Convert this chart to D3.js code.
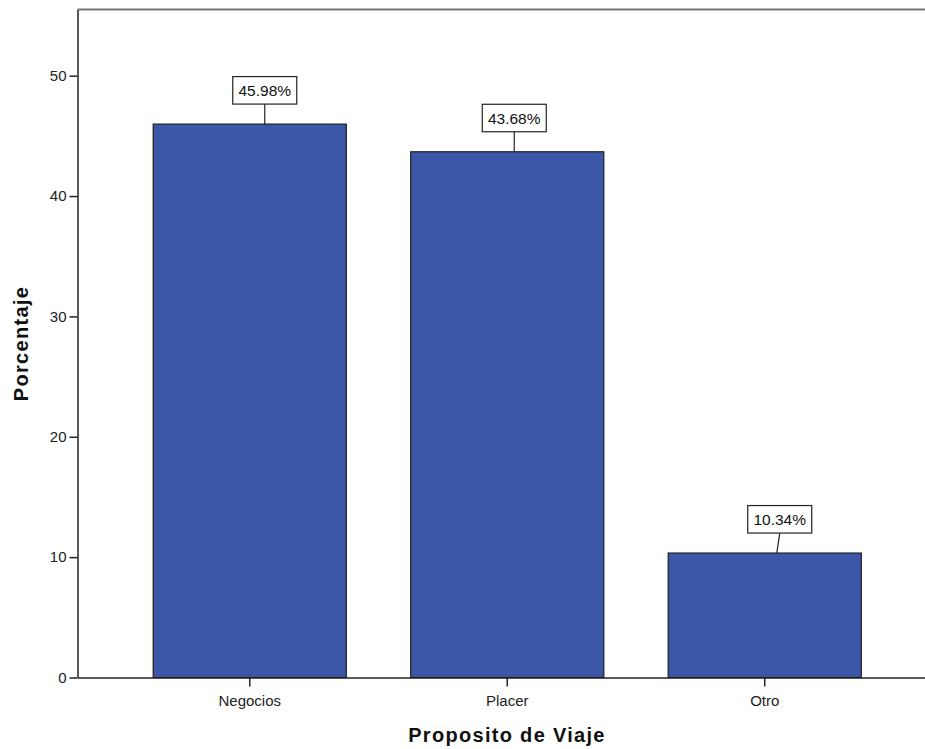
<!DOCTYPE html>
<html>
<head>
<meta charset="utf-8">
<script src="https://cdn.jsdelivr.net/npm/d3@7"></script>
<style>
  body { margin: 0; background: #fff; }
  svg { display: block; font-family: "Liberation Sans", Arial, sans-serif; }
  .axis text { font-size: 15px; fill: #222; }
  .axis path, .axis line { stroke: #222; stroke-width: 1.5px; }
  .axis-label { font-size: 20px; font-weight: bold; letter-spacing: 1.3px; fill: #111; }
  .bar { fill: #3d57a8; stroke: #1f1f1f; stroke-width: 1.2px; }
  .val-box { fill: #fff; stroke: #222; stroke-width: 1.2px; }
  .val-text { font-size: 15.5px; fill: #111; }
</style>
</head>
<body>
<div id="chart-area"></div>
<script>
// data
const categories = ["Negocios", "Placer", "Otro"];
const percents = [45.98, 43.68, 10.34];
const yTicks = [0, 10, 20, 30, 40, 50];

const chartWidth = 925;
const chartHeight = 749;
const plot = {left: 77.5, top: 9.5, right: 937, bottom: 677.5};

// where SPSS put the little label boxes relative to the bar centre
const boxShift = [15, 7, 15];
const leaderShift = [15, 7, 12];

const svg = d3.select("#chart-area").append("svg")
    .attr("width", chartWidth)
    .attr("height", chartHeight);

const x = d3.scaleBand()
    .domain(categories)
    .range([plot.left, plot.right])
    .paddingInner(0.25)
    .paddingOuter(0.294);

const y = d3.scaleLinear()
    .domain([0, 55.5])
    .range([plot.bottom, plot.top]);

// grey frame line on top
svg.append("line")
    .attr("x1", plot.left)
    .attr("x2", plot.right)
    .attr("y1", plot.top)
    .attr("y2", plot.top)
    .attr("stroke", "#777")
    .attr("stroke-width", 2);

// bars
svg.selectAll(".bar")
    .data(categories)
    .enter()
    .append("rect")
    .attr("class", "bar")
    .attr("x", d => x(d))
    .attr("y", (d, i) => y(percents[i]))
    .attr("width", x.bandwidth())
    .attr("height", (d, i) => y(0) - y(percents[i]));

// axes
svg.append("g")
    .attr("class", "axis y")
    .attr("transform", `translate(${plot.left},0)`)
    .call(d3.axisLeft(y).tickValues(yTicks).tickSize(8).tickSizeOuter(0).tickPadding(3));

svg.append("g")
    .attr("class", "axis x")
    .attr("transform", `translate(0,${plot.bottom})`)
    .call(d3.axisBottom(x).tickSize(9).tickSizeOuter(0).tickPadding(9));

// value labels with leader lines
const labels = svg.selectAll(".val")
    .data(categories)
    .enter()
    .append("g")
    .attr("class", "val");

const boxW = 64, boxH = 27.5, gap = 20;

labels.append("line")
    .attr("x1", (d, i) => x(d) + x.bandwidth() / 2 + leaderShift[i])
    .attr("y1", (d, i) => y(percents[i]))
    .attr("x2", (d, i) => x(d) + x.bandwidth() / 2 + boxShift[i])
    .attr("y2", (d, i) => y(percents[i]) - gap)
    .attr("stroke", "#222")
    .attr("stroke-width", 1.2);

labels.append("rect")
    .attr("class", "val-box")
    .attr("x", (d, i) => x(d) + x.bandwidth() / 2 + boxShift[i] - boxW / 2)
    .attr("y", (d, i) => y(percents[i]) - gap - boxH)
    .attr("width", boxW)
    .attr("height", boxH);

labels.append("text")
    .attr("class", "val-text")
    .attr("x", (d, i) => x(d) + x.bandwidth() / 2 + boxShift[i])
    .attr("y", (d, i) => y(percents[i]) - gap - boxH / 2 + 5.5)
    .attr("text-anchor", "middle")
    .text((d, i) => percents[i].toFixed(2) + "%");

// axis titles
svg.append("text")
    .attr("class", "axis-label")
    .attr("text-anchor", "middle")
    .attr("transform", `translate(28,${(plot.top + plot.bottom) / 2}) rotate(-90)`)
    .text("Porcentaje");

svg.append("text")
    .attr("class", "axis-label")
    .attr("text-anchor", "middle")
    .attr("x", 507)
    .attr("y", 742)
    .text("Proposito de Viaje");
</script>
</body>
</html>
